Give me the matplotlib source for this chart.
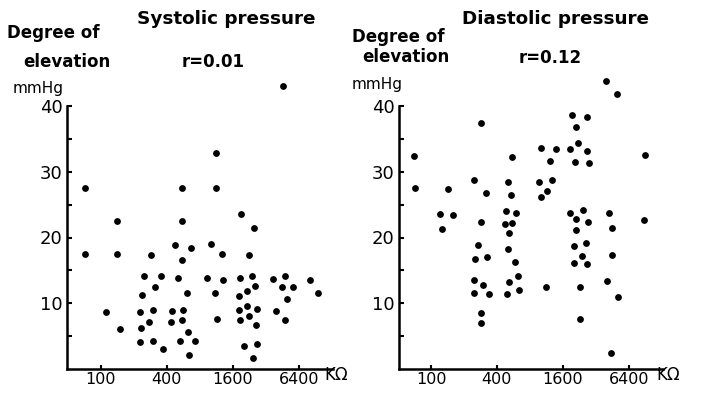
import matplotlib
matplotlib.use("Agg")
import matplotlib.pyplot as plt
from matplotlib.ticker import FixedLocator, NullLocator

# ---- data: resistance (KΩ) vs degree of elevation (mmHg) ----
sys_r = [71, 71, 141, 139, 112, 149, 249, 237, 309, 284, 353, 228, 300, 274, 230, 227,
         300, 365, 444, 435, 476, 504, 548, 548, 544, 658, 613, 556, 544, 626, 529, 725,
         639, 1127, 1127, 1008, 1269, 933, 1307, 1096, 1136, 1905, 2470, 2222, 1866, 2369,
         2539, 2132, 1828, 2147, 1815, 2668, 2222, 1841, 2613, 2031, 2650, 2419, 3680,
         4740, 4510, 5680, 5010, 3950, 4740, 8010, 9470, 4590]
sys_y = [27.6, 17.5, 22.5, 17.5, 8.7, 6.1, 14.1, 11.3, 12.4, 17.4, 14.1, 8.7, 9.0, 7.1,
         6.2, 4.1, 4.3, 3.0, 8.8, 7.2, 18.9, 13.9, 27.6, 22.5, 16.6, 18.4, 11.5, 9.0, 7.4,
         5.7, 4.2, 4.2, 2.1, 32.9, 27.5, 19.0, 17.5, 13.8, 13.5, 11.6, 7.6, 23.5, 21.5,
         17.4, 13.8, 14.2, 12.6, 11.9, 11.1, 9.6, 9.0, 9.2, 8.1, 7.4, 6.7, 3.5, 3.8, 1.6,
         13.7, 14.2, 12.4, 12.4, 10.7, 8.8, 7.4, 13.6, 11.5, 43.0]

dia_r = [70, 72, 121, 127, 142, 160, 248, 320, 285, 268, 254, 325, 248, 299, 249, 339,
         289, 289, 552, 505, 534, 484, 600, 470, 552, 519, 505, 580, 618, 519, 640, 498,
         1014, 959, 1007, 1149, 1233, 1268, 1387, 1125, 1874, 2200, 2636, 2051, 2790,
         4006, 5040, 1927, 2636, 2094, 287, 1861, 2442, 2108, 2733, 2094, 2037, 2618,
         2375, 2037, 2658, 2279, 2279, 4240, 4544, 4513, 4034, 5110, 4420, 8940, 8820]
dia_y = [32.4, 27.5, 23.5, 21.3, 27.4, 23.4, 28.8, 26.8, 22.4, 18.8, 16.7, 17.0, 13.5,
         12.8, 11.5, 11.4, 8.5, 7.0, 32.3, 28.5, 26.4, 24.0, 23.8, 22.1, 22.2, 20.7, 18.3,
         16.2, 14.2, 13.3, 12.0, 11.4, 33.6, 28.5, 26.1, 27.0, 31.6, 28.7, 33.5, 12.5,
         33.4, 34.4, 33.1, 31.5, 31.4, 43.8, 41.8, 38.6, 38.3, 36.8, 37.4, 23.8, 24.2,
         22.8, 22.4, 21.1, 18.7, 19.1, 17.2, 16.1, 15.9, 12.4, 7.6, 23.8, 21.4, 17.4,
         13.4, 10.9, 2.5, 32.5, 22.6]

x_ticks = [100, 400, 1600, 6400]
x_ticklabels = ["100", "400", "1600", "6400"]
y_ticks = [10, 20, 30, 40]
y_minor = [5, 15, 25, 35]
titles = ["Systolic pressure", "Diastolic pressure"]
r_labels = ["r=0.01", "r=0.12"]

W, H = 704, 394
fig = plt.figure(figsize=(W / 100, H / 100), dpi=100)
fig.patch.set_facecolor("white")


def px(x, y):
    return x / W, 1 - y / H


def make_ax(left_px, right_px, xlim):
    l, _ = px(left_px, 0)
    b = (H - 369) / H
    t = (H - 106) / H
    ax = fig.add_axes([l, b, (right_px - left_px) / W, t - b])
    ax.set_xscale("log", base=4)
    ax.set_xlim(*xlim)
    ax.set_ylim(0, 40)
    for s in ["top", "right"]:
        ax.spines[s].set_visible(False)
    for s in ["left", "bottom"]:
        ax.spines[s].set_linewidth(1.8)
        ax.spines[s].set_color("black")
    ax.xaxis.set_major_locator(FixedLocator(x_ticks))
    ax.xaxis.set_minor_locator(NullLocator())
    ax.set_xticklabels(x_ticklabels)
    ax.yaxis.set_major_locator(FixedLocator(y_ticks))
    ax.yaxis.set_minor_locator(FixedLocator(y_minor))
    ax.set_yticklabels([str(v) for v in y_ticks])
    ax.tick_params(axis="x", which="major", direction="in", length=3, width=1.5,
                   labelsize=11.5, pad=2)
    ax.tick_params(axis="y", which="both", direction="in", length=3.5, width=1.5,
                   labelsize=13, pad=3)
    ax.set_facecolor("white")
    return ax


ax1 = make_ax(67, 333, (49, 13100))
ax2 = make_ax(399, 663, (51, 13150))

ax1.scatter(sys_r, sys_y, s=24, color="black", clip_on=False, zorder=3, linewidths=0)
ax2.scatter(dia_r, dia_y, s=24, color="black", clip_on=False, zorder=3, linewidths=0)

bold = dict(fontweight="bold", color="black", va="center", ha="left")

# left panel texts
fig.text(*px(7, 33), "Degree of", fontsize=12, **bold)
fig.text(*px(23, 62), "elevation", fontsize=12, **bold)
fig.text(*px(13, 88), "mmHg", fontsize=11, color="black", va="center", ha="left")
fig.text(*px(137, 19), titles[0], fontsize=13.2, **bold)
fig.text(*px(182, 62), r_labels[0], fontsize=12, **bold)
fig.text(*px(324, 375), "KΩ", fontsize=12, color="black", va="center", ha="left")

# right panel texts
fig.text(*px(352, 37), "Degree of", fontsize=12, **bold)
fig.text(*px(362, 57), "elevation", fontsize=12, **bold)
fig.text(*px(352, 85), "mmHg", fontsize=11, color="black", va="center", ha="left")
fig.text(*px(462, 19), titles[1], fontsize=13.2, **bold)
fig.text(*px(519, 58), r_labels[1], fontsize=12, **bold)
fig.text(*px(656, 375), "KΩ", fontsize=12, color="black", va="center", ha="left")

fig.savefig("out.png", dpi=100, facecolor="white")
